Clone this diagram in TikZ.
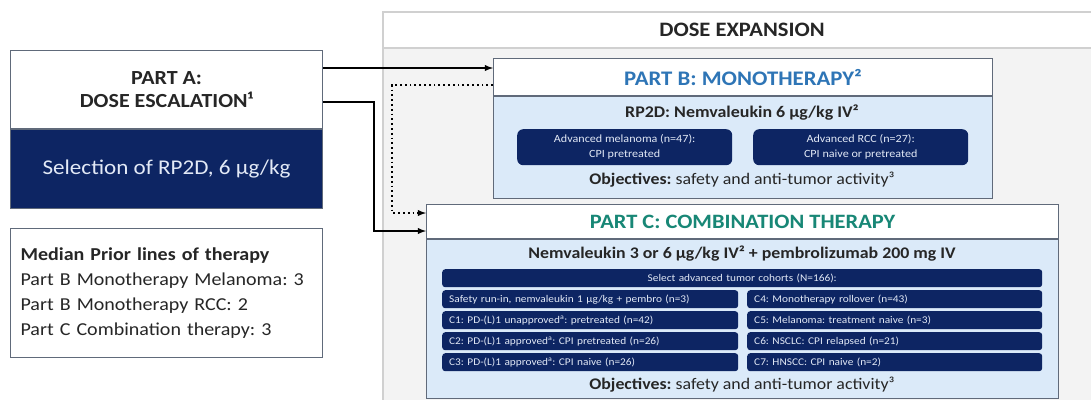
\documentclass[tikz,border=0pt]{standalone}
\usepackage{fontspec}
\setmainfont{Carlito}[FakeStretch=1.1]
\usetikzlibrary{positioning,calc}
\frenchspacing

\definecolor{navy}{RGB}{13,37,99}
\definecolor{paleblue}{RGB}{219,234,249}
\definecolor{titleblue}{RGB}{46,117,182}
\definecolor{titleteal}{RGB}{24,135,118}
\definecolor{edgegray}{RGB}{96,106,122}
\definecolor{areagray}{RGB}{243,243,243}
\definecolor{linegray}{RGB}{208,208,208}
\definecolor{inkgray}{RGB}{38,38,38}
\definecolor{bartext}{RGB}{226,233,246}

\begin{document}
\begin{tikzpicture}[x=1pt, y=-1pt,
    box/.style={draw=edgegray, line width=1.1pt, anchor=north west, inner sep=0pt, align=center, text=inkgray},
    navybox/.style={fill=navy, text=bartext, anchor=north west, inner sep=0pt, align=center},
    cohort/.style={navybox, rounded corners=3pt, inner xsep=7pt, minimum height=18pt, font=\fontsize{10.3}{12}\selectfont},
    arrow/.style={-latex, line width=1.8pt},
    dotarrow/.style={-latex, line width=1.8pt, dash pattern=on 1.8pt off 3pt}]

    \useasboundingbox (0,0) rectangle (1091,400);

    % constants
    \def\xmid{742}
    \def\xarea{383}

    % dose expansion area
    \fill[areagray] (\xarea,48) rectangle (1091,400);
    \fill[white] (\xarea,12) rectangle (1091,48);
    \draw[linegray, line width=1.2pt] (1091,12) -- (\xarea,12) -- (\xarea,400);
    \draw[linegray, line width=1.2pt] (\xarea,48) -- (1091,48);
    \node[font=\bfseries\fontsize{20.5}{24}\selectfont, text=inkgray] (expTitle) at (\xmid,30) {DOSE EXPANSION};

    % Part A
    \node[box, fill=white, minimum width=312pt, minimum height=78pt, font=\bfseries\fontsize{20}{23}\selectfont] (aHead) at (10,50) {PART A:\\DOSE ESCALATION¹};
    \node[box, fill=navy, text=bartext, minimum width=312pt, minimum height=79pt, font=\fontsize{21}{24}\selectfont, below=0pt of aHead] (aBody) {Selection of RP2D, 6 µg/kg};

    % prior lines
    \node[box, fill=white, minimum height=129pt, text width=292pt, inner xsep=10pt, align=left, font=\fontsize{18.2}{25}\selectfont] (prior) at (10,228)
        {\textbf{Median Prior lines of therapy}\\Part B Monotherapy Melanoma: 3\\Part B Monotherapy RCC: 2\\Part C Combination therapy: 3};

    % Part B
    \node[box, fill=white, minimum width=499pt, minimum height=37pt, text=titleblue, font=\bfseries\fontsize{20.7}{23}\selectfont] (bHead) at (493,58) {PART B: MONOTHERAPY²};
    \node[box, fill=paleblue, minimum width=499pt, minimum height=102pt, below=0pt of bHead] (bBody) {};
    \node[font=\bfseries\fontsize{16.3}{18}\selectfont, text=inkgray] (bDose) at (\xmid,113) {RP2D: Nemvaleukin 6 µg/kg IV²};
    \node[navybox, rounded corners=6pt, minimum width=215pt, minimum height=36pt, font=\fontsize{11}{15}\selectfont] (bMel) at (517,129) {Advanced melanoma (n=47):\\CPI pretreated};
    \node[navybox, rounded corners=6pt, minimum width=215pt, minimum height=36pt, font=\fontsize{11}{15}\selectfont] (bRcc) at (753,129) {Advanced RCC (n=27):\\CPI naive or pretreated};
    \node[font=\fontsize{16.2}{18}\selectfont, text=inkgray] (bGoal) at (\xmid,180) {\textbf{Objectives:} safety and anti-tumor activity³};

    % Part C
    \node[box, fill=white, minimum width=632pt, minimum height=34pt, text=titleteal, font=\bfseries\fontsize{20.4}{23}\selectfont] (cHead) at (426,204) {PART C: COMBINATION THERAPY};
    \node[box, fill=paleblue, minimum width=632pt, minimum height=159pt, below=0pt of cHead] (cBody) {};
    \node[font=\bfseries\fontsize{16.2}{18}\selectfont, text=inkgray] (cDose) at (\xmid,254) {Nemvaleukin 3 or 6 µg/kg IV² + pembrolizumab 200 mg IV};
    \node[cohort, text width=586pt] (cAll) at (442,269) {Select advanced tumor cohorts (N=166):};
    \foreach \row/\lefttxt/\righttxt in {
        0/{Safety run-in, nemvaleukin 1 µg/kg + pembro (n=3)}/{C4: Monotherapy rollover (n=43)},
        1/{C1: PD-(L)1 unapproved\textsuperscript{a}: pretreated (n=42)}/{C5: Melanoma: treatment naive (n=3)},
        2/{C2: PD-(L)1 approved\textsuperscript{a}: CPI pretreated (n=26)}/{C6: NSCLC: CPI relapsed (n=21)},
        3/{C3: PD-(L)1 approved\textsuperscript{a}: CPI naive (n=26)}/{C7: HNSCC: CPI naive (n=2)}}
    {
        \node[cohort, text width=282pt, align=left] (cl\row) at (442,{290+21*\row}) {\lefttxt};
        \node[cohort, text width=281pt, align=left] (cr\row) at (747,{290+21*\row}) {\righttxt};
    }
    \node[font=\fontsize{16.2}{18}\selectfont, text=inkgray] (cGoal) at (\xmid,385) {\textbf{Objectives:} safety and anti-tumor activity³};

    % connectors
    \coordinate (aOut1) at ($(aHead.north east)+(0,18)$);
    \coordinate (aOut2) at ($(aHead.north east)+(0,52)$);
    \coordinate (bOut) at ($(bHead.north west)+(0,27)$);
    \coordinate (cIn1) at ($(cHead.north west)+(0,9)$);
    \coordinate (cIn2) at ($(cHead.north west)+(0,27)$);

    \draw[arrow] (aOut1) -- (aOut1 -| bHead.west);
    \draw[arrow] (aOut2) -- ++(51,0) |- (cIn2);
    \draw[dotarrow] (bOut) -- ++(-101,0) |- (cIn1);

\end{tikzpicture}
\end{document}
